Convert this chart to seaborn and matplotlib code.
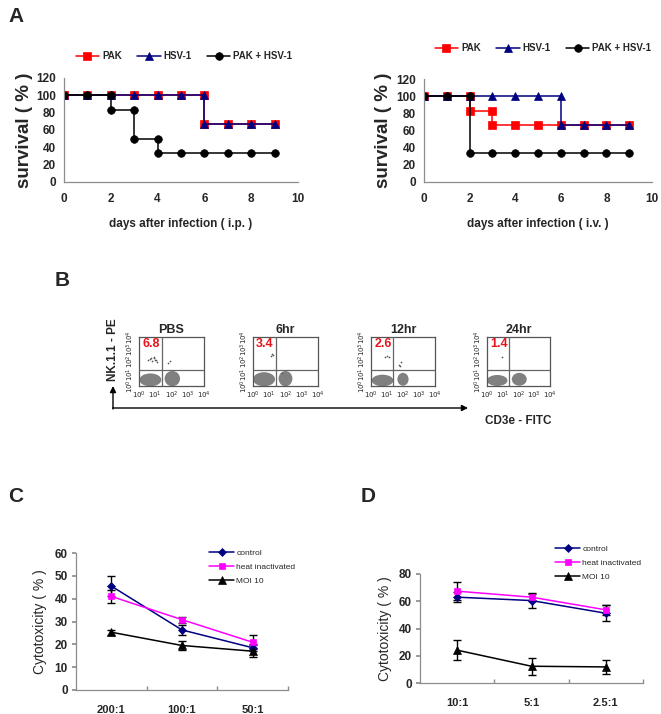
import numpy as np
import pandas as pd
import matplotlib
matplotlib.use('Agg')
import matplotlib.pyplot as plt
import seaborn as sns
from matplotlib.patches import Ellipse

sns.set_theme(style='white')
plt.rcParams['font.family'] = ['Liberation Sans', 'DejaVu Sans']

W, H = 661, 714

# ---------------- data ----------------
days = [0, 1, 2, 3, 4, 5, 6, 7, 8, 9]
ip_pak = [100, 100, 100, 100, 100, 100, 66.7, 66.7, 66.7, 66.7]
ip_hsv = [100, 100, 100, 100, 100, 100, 66.7, 66.7, 66.7, 66.7]
ip_combo = [100, 100, 83.3, 50, 33.3, 33.3, 33.3, 33.3, 33.3, 33.3]
iv_pak = [100, 100, 83.3, 66.7, 66.7, 66.7, 66.7, 66.7, 66.7, 66.7]
iv_hsv = [100, 100, 100, 100, 100, 100, 66.7, 66.7, 66.7, 66.7]
iv_combo = [100, 100, 33.3, 33.3, 33.3, 33.3, 33.3, 33.3, 33.3, 33.3]
surv_labels = ['PAK', 'HSV-1', 'PAK + HSV-1']

flow_titles = ['PBS', '6hr', '12hr', '24hr']
flow_nk_pct = ['6.8', '3.4', '2.6', '1.4']
# cell populations (x centre, y centre, width, height) in log decades
flow_blobs = [
    [(0.7, 0.5, 1.35, 1.05), (2.05, 0.6, 0.95, 1.25)],
    [(0.68, 0.55, 1.35, 1.15), (2.0, 0.6, 0.85, 1.25)],
    [(0.72, 0.45, 1.35, 0.95), (2.0, 0.55, 0.7, 1.05)],
    [(0.65, 0.45, 1.3, 0.9), (2.05, 0.55, 0.95, 1.05)],
]
flow_nk_x = [
    [0.55, 0.7, 0.8, 0.9, 1.0, 1.1, 0.75, 0.95, 1.05, 1.8, 1.9],
    [1.1, 1.15, 1.2, 1.8],
    [0.9, 1.0, 1.15, 1.75, 1.85, 1.8],
    [0.95],
]
flow_nk_y = [
    [2.1, 2.2, 2.05, 2.3, 2.15, 2.0, 2.25, 2.35, 2.1, 1.9, 2.05],
    [2.45, 2.6, 2.5, 1.1],
    [2.4, 2.45, 2.4, 1.7, 1.95, 1.6],
    [2.4],
]

c_ratios = ['200:1', '100:1', '50:1']
c_control = [45.5, 26.3, 18.5]
c_control_err = [4.5, 2.3, 1.5]
c_heat = [41.0, 30.8, 20.9]
c_heat_err = [2.7, 1.3, 3.0]
c_moi = [25.3, 19.5, 17.0]
c_moi_err = [1.0, 1.8, 2.5]

d_ratios = ['10:1', '5:1', '2.5:1']
d_control = [63.0, 60.5, 51.2]
d_control_err = [3.5, 5.5, 5.7]
d_heat = [67.4, 63.0, 53.7]
d_heat_err = [6.4, 2.0, 3.7]
d_moi = [24.1, 12.3, 11.8]
d_moi_err = [7.4, 6.4, 5.4]
cyto_labels = ['control', 'heat inactivated', 'MOI 10']


def step_frame(d, s):
    xs, ys = [], []
    for i in range(len(d)):
        if i > 0 and s[i] != s[i - 1]:
            xs.append(d[i]); ys.append(s[i - 1])
        xs.append(d[i]); ys.append(s[i])
    return pd.DataFrame({'day': xs, 'survival': ys})


def fig_rect(x0, y0, x1, y1):
    return [x0 / W, 1 - y1 / H, (x1 - x0) / W, (y1 - y0) / H]


fig = plt.figure(figsize=(W / 100, H / 100), dpi=100)
spine_col = '#8c8c8c'

# ---------------- panel A ----------------
surv_colors = ['#ff0000', '#000080', '#000000']
surv_markers = ['s', '^', 'o']
for rect, series, xl, legx, legy, ylp in [
        (fig_rect(64, 78, 298, 182), [ip_pak, ip_hsv, ip_combo], 'days after infection ( i.p. )', 184, 56, 2),
        (fig_rect(424, 79, 652, 182), [iv_pak, iv_hsv, iv_combo], 'days after infection ( i.v. )', 543, 48, 3)]:
    ax = fig.add_axes(rect)
    for s, c, m, lab in zip(series, surv_colors, surv_markers, surv_labels):
        df = step_frame(days, s)
        sns.lineplot(data=df, x='day', y='survival', sort=False, estimator=None,
                     color=c, marker=m, markersize=5.5, markeredgecolor=c,
                     markeredgewidth=0.5, lw=1.1, label=lab, ax=ax)
    ax.set_xlim(0, 10)
    ax.set_ylim(0, 120)
    ax.set_xticks(range(0, 11, 2))
    ax.set_yticks(range(0, 121, 20))
    for sp in ['top', 'right']:
        ax.spines[sp].set_visible(False)
    for sp in ['left', 'bottom']:
        ax.spines[sp].set_color(spine_col)
        ax.spines[sp].set_linewidth(0.9)
    ax.tick_params(axis='both', direction='out', length=3, width=0.8, color=spine_col, pad=3)
    ax.tick_params(axis='y', labelsize=8.5)
    ax.tick_params(axis='x', labelsize=8.5, pad=5)
    for t in ax.get_xticklabels() + ax.get_yticklabels():
        t.set_fontweight('bold')
    ax.set_xlabel(xl, fontsize=8.5, fontweight='bold', labelpad=9)
    ax.set_ylabel('survival ( % )', fontsize=13.5, fontweight='bold', labelpad=ylp)
    h, l = ax.get_legend_handles_labels()
    ax.legend(h, l, loc='center', bbox_to_anchor=(legx / W, 1 - legy / H),
              bbox_transform=fig.transFigure, ncol=3, frameon=False,
              prop={'size': 7, 'weight': 'bold'}, handlelength=2.4,
              handletextpad=0.3, columnspacing=1.6)

# ---------------- panel B ----------------
flow_x = [(139, 204), (253, 318), (371, 435), (487, 550)]
dec_labels = ['$10^0$', '$10^1$', '$10^2$', '$10^3$', '$10^4$']
for i, (x0, x1) in enumerate(flow_x):
    ax = fig.add_axes(fig_rect(x0, 337, x1, 386))
    for (cx, cy, w, h) in flow_blobs[i]:
        ax.add_patch(Ellipse((cx, cy), w, h, facecolor='#6a6a6a', alpha=0.85, lw=0, zorder=1))
    sns.scatterplot(x=flow_nk_x[i], y=flow_nk_y[i], s=1.5, color='#555555',
                    linewidth=0, ax=ax, zorder=2)
    ax.axvline(1.4, color='#666666', lw=0.9, zorder=3)
    ax.axhline(1.3, color='#666666', lw=0.9, zorder=3)
    ax.set_xlim(0, 4)
    ax.set_ylim(0, 4)
    ax.set_xticks(range(5))
    ax.set_yticks(range(5))
    ax.set_xticklabels(dec_labels, fontsize=5)
    ax.set_yticklabels(dec_labels, fontsize=5, rotation=90, va='center')
    ax.tick_params(length=1.5, width=0.6, pad=1, color='#444444')
    ax.tick_params(axis='x', pad=1)
    for sp in ax.spines.values():
        sp.set_color('#555555')
        sp.set_linewidth(0.9)
    ax.set_title(flow_titles[i], fontsize=9, fontweight='bold', pad=3)
    ax.text(0.2, 3.4, flow_nk_pct[i], color='#e8141c', fontsize=9,
            fontweight='bold', ha='left', va='center')

# ---------------- panel C / D ----------------
cyto_colors = ['#000080', '#ff00ff', '#000000']
cyto_markers = ['D', 's', '^']
cyto_msize = [4, 5, 5.5]
pos = np.arange(3)
for rect, ratios, vals, errs, ylim, yticks, legxy, ylp in [
        (fig_rect(76, 553, 288, 690), c_ratios, [c_control, c_heat, c_moi],
         [c_control_err, c_heat_err, c_moi_err], 60, range(0, 61, 10), (209, 549), 5),
        (fig_rect(420, 574, 643, 683), d_ratios, [d_control, d_heat, d_moi],
         [d_control_err, d_heat_err, d_moi_err], 80, range(0, 81, 20), (555, 545), 5)]:
    ax = fig.add_axes(rect)
    for v, e, c, m, ms, lab in zip(vals, errs, cyto_colors, cyto_markers, cyto_msize, cyto_labels):
        ax.errorbar(pos, v, yerr=e, fmt='none', ecolor='black', elinewidth=1,
                    capsize=3, capthick=1, zorder=2)
        sns.lineplot(x=pos, y=v, color=c, marker=m, markersize=ms, markeredgecolor=c,
                     markeredgewidth=0.5, lw=1.1, label=lab, ax=ax, zorder=3)
    ax.set_xlim(-0.5, 2.5)
    ax.set_ylim(0, ylim)
    ax.set_yticks(list(yticks))
    ax.set_xticks(pos)
    ax.set_xticklabels(ratios)
    ax.set_xticks([0.5, 1.5, 2.5], minor=True)
    for sp in ['top', 'right']:
        ax.spines[sp].set_visible(False)
    for sp in ['left', 'bottom']:
        ax.spines[sp].set_color(spine_col)
        ax.spines[sp].set_linewidth(0.9)
    ax.tick_params(axis='x', which='major', length=0, labelsize=8, pad=11)
    ax.tick_params(axis='x', which='minor', length=3, direction='in', color=spine_col, bottom=True)
    ax.tick_params(axis='y', length=3, direction='out', color=spine_col, labelsize=8.5, pad=3, left=True)
    for t in ax.get_xticklabels() + ax.get_yticklabels():
        t.set_fontweight('bold')
    ax.set_ylabel('Cytotoxicity ( % )', fontsize=10, labelpad=ylp)
    h, l = ax.get_legend_handles_labels()
    ax.legend(h, l, loc='upper left', bbox_to_anchor=(legxy[0] / W, 1 - legxy[1] / H),
              bbox_transform=fig.transFigure, frameon=False, fontsize=6,
              handlelength=3.0, handletextpad=0.3, labelspacing=0.75,
              borderpad=0, borderaxespad=0)

# ---------------- overlay: panel letters, arrows ----------------
ov = fig.add_axes([0, 0, 1, 1], facecolor='none')
ov.set_xlim(0, W)
ov.set_ylim(H, 0)
ov.axis('off')
for letter, x, y in [('A', 8, 17), ('B', 55, 280), ('C', 8, 496), ('D', 361, 496)]:
    ov.text(x, y, letter, fontsize=15, fontweight='bold', va='center', ha='left')
ov.annotate('', xy=(113, 386), xytext=(113, 409),
            arrowprops=dict(arrowstyle='-|>', color='black', lw=1, mutation_scale=9,
                            shrinkA=0, shrinkB=0))
ov.annotate('', xy=(468, 408), xytext=(112.5, 408),
            arrowprops=dict(arrowstyle='-|>', color='black', lw=1, mutation_scale=9,
                            shrinkA=0, shrinkB=0))
ov.text(113, 350, 'NK.1.1 - PE', rotation=90, fontsize=8.5, fontweight='bold',
        ha='center', va='center')
ov.text(485, 421, 'CD3e - FITC', fontsize=8.5, fontweight='bold', ha='left', va='center')

fig.savefig('out.png', dpi=100)
